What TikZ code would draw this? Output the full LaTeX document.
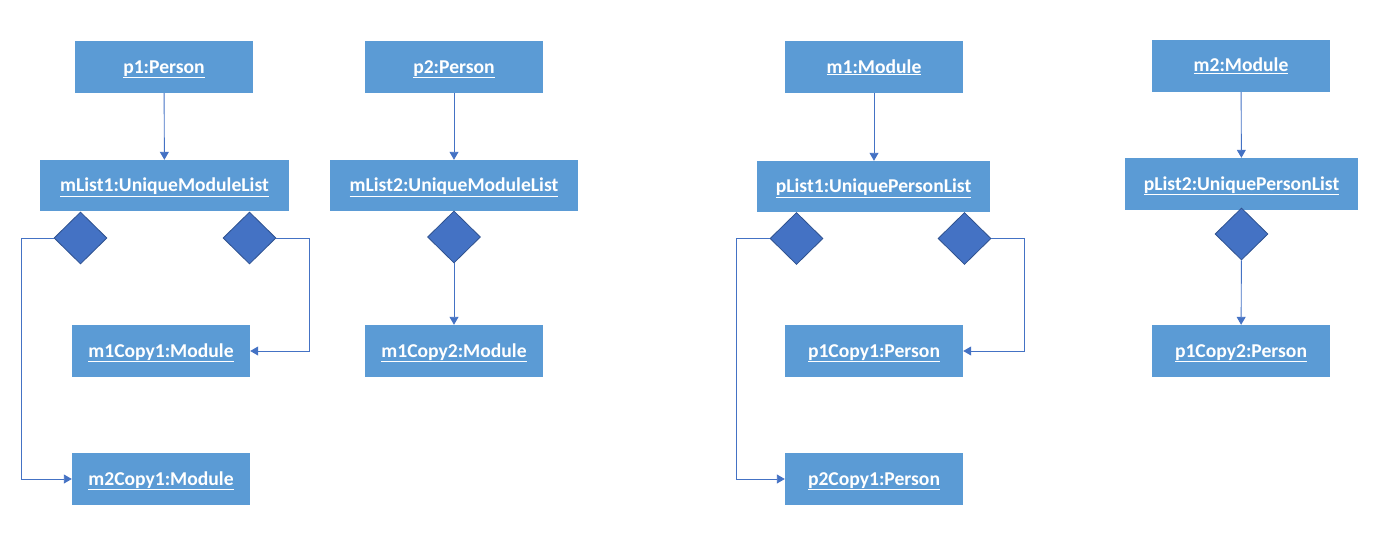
\documentclass[tikz,border=0pt]{standalone}
\usepackage{fontspec}
\setmainfont{Carlito}
\usetikzlibrary{shapes.geometric,arrows.meta}
\definecolor{boxblue}{HTML}{5B9BD5}
\definecolor{diafill}{HTML}{4472C4}
\definecolor{diaedge}{HTML}{2F528F}
\definecolor{linecol}{HTML}{4472C4}
\tikzset{
  obj/.style={rectangle, fill=boxblue, text=white, font=\bfseries\fontsize{19.6}{22}\selectfont, inner sep=0pt},
  comp/.style={diamond, fill=diafill, draw=diaedge, line width=0.8pt, minimum width=53pt, minimum height=52pt, inner sep=0pt},
  conn/.style={draw=linecol, line width=0.9pt, -{Triangle[width=9pt,length=8pt]}}
}
\newcommand{\ul}[1]{\raisebox{-6pt}[0pt][0pt]{\underline{#1}}}
\begin{document}
\begin{tikzpicture}[x=1pt,y=-1pt]
\useasboundingbox (0,0) rectangle (1393,535);
% boxes
\node[obj, minimum width=178pt, minimum height=52pt] (p1) at (164,67) {\ul{p1:Person}};
\node[obj, minimum width=249pt, minimum height=51pt] (ml1) at (164.5,185.5) {\ul{mList1:UniqueModuleList}};
\node[obj, minimum width=178pt, minimum height=52pt] (p2) at (454,67) {\ul{p2:Person}};
\node[obj, minimum width=248pt, minimum height=51pt] (ml2) at (454,185.5) {\ul{mList2:UniqueModuleList}};
\node[obj, minimum width=178pt, minimum height=52pt] (m1) at (874,67) {\ul{m1:Module}};
\node[obj, minimum width=233pt, minimum height=51pt] (pl1) at (873.5,186.5) {\ul{pList1:UniquePersonList}};
\node[obj, minimum width=178pt, minimum height=52pt] (m2) at (1241,66) {\ul{m2:Module}};
\node[obj, minimum width=233pt, minimum height=52pt] (pl2) at (1241.5,184) {\ul{pList2:UniquePersonList}};
\node[obj, minimum width=178pt, minimum height=52pt] (m1c1) at (161,351) {\ul{m1Copy1:Module}};
\node[obj, minimum width=178pt, minimum height=52pt] (m2c1) at (161,479) {\ul{m2Copy1:Module}};
\node[obj, minimum width=178pt, minimum height=52pt] (m1c2) at (454,351) {\ul{m1Copy2:Module}};
\node[obj, minimum width=178pt, minimum height=52pt] (p1c1) at (874,351) {\ul{p1Copy1:Person}};
\node[obj, minimum width=178pt, minimum height=52pt] (p2c1) at (874,479) {\ul{p2Copy1:Person}};
\node[obj, minimum width=178pt, minimum height=52pt] (p1c2) at (1241,351) {\ul{p1Copy2:Person}};
% diamonds
\node[comp] (d1) at (80.5,238) {};
\node[comp] (d2) at (249.5,238) {};
\node[comp] (d3) at (454,237) {};
\node[comp] (d4) at (796.5,238.5) {};
\node[comp] (d5) at (964.5,238.5) {};
\node[comp] (d6) at (1241.5,234) {};
% connectors
\draw[conn] (p1) -- (ml1);
\draw[conn] (p2) -- (ml2);
\draw[conn] (m1.south) -- (pl1.north -| m1.south);
\draw[conn] (m2) -- (pl2);
\draw[conn] (d3) -- (m1c2);
\draw[conn] (d6) -- (p1c2);
\draw[conn] (d1.west) -- ++(-32.5,0) |- (m2c1.west);
\draw[conn] (d2.east) -- ++(33,0) |- (m1c1.east);
\draw[conn] (d4.west) -- ++(-33.5,0) |- (p2c1.west);
\draw[conn] (d5.east) -- ++(33,0) |- (p1c1.east);
\end{tikzpicture}
\end{document}
